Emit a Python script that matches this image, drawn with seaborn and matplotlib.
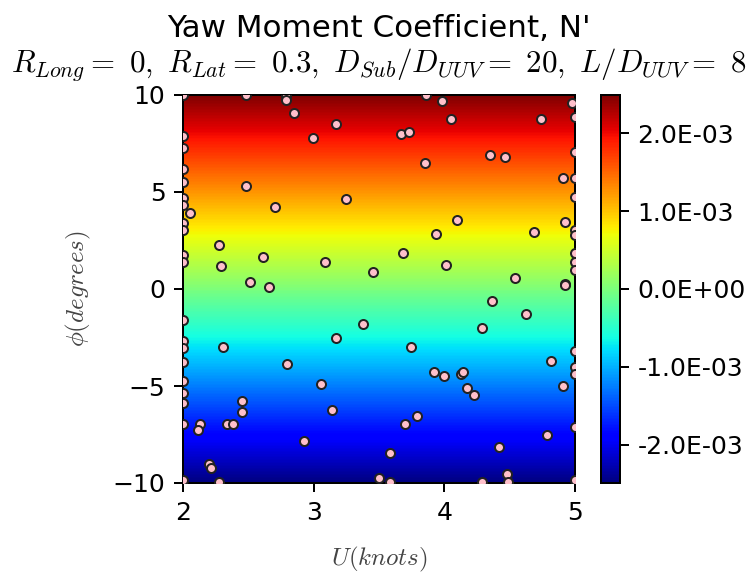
import numpy as np
import pandas as pd
import matplotlib
matplotlib.use("Agg")
import matplotlib.pyplot as plt
import matplotlib.ticker as mticker
import seaborn as sns

grid_u = [2.0, 5.0]
grid_phi = [-10.0, -5.0, 0.0, 5.0, 10.0]
grid_cn_u2 = [-2.49e-3, -1.25e-3, 0.0, 1.25e-3, 2.49e-3]
grid_cn_u5 = [-2.49e-3, -1.25e-3, 0.0, 1.25e-3, 2.49e-3]

# ---- sample points ----
pts_u = [2.482, 2.788, 2.788, 2.849, 3.171, 2.995, 2.482, 3.247, 2.704, 2.054,
         2.276, 2.612, 2.291, 3.087, 3.454, 2.513, 2.658,
         2.0, 2.0, 2.0, 2.0, 2.0, 2.0, 2.0, 2.0, 2.0, 2.0, 2.0,
         3.860, 3.982, 4.051, 3.668, 3.730, 4.740, 4.977, 5.0, 3.852, 4.349,
         4.464, 4.908, 5.0, 5.0, 5.0, 4.097, 3.936, 4.686, 4.923, 5.0, 5.0,
         3.684, 4.013, 4.541, 4.923, 5.0, 5.0, 5.0,
         3.378, 3.171, 2.306, 2.796, 3.056, 2.452, 2.452, 3.140, 2.130, 2.115,
         2.337, 2.383, 2.926, 2.199, 2.214, 2.276, 3.500,
         2.0, 2.0, 2.0, 2.0, 2.0, 2.0, 2.0, 2.0, 2.0,
         4.923, 4.365, 4.625, 4.288, 3.745, 4.816, 3.921, 3.997, 4.127, 4.143,
         4.173, 4.227, 4.908, 3.791, 3.699, 4.786, 3.584, 4.418, 4.480, 3.584,
         4.288, 4.487,
         5.0, 5.0, 5.0, 5.0, 5.0]
pts_phi = [10.0, 9.95, 9.74, 9.07, 8.51, 7.79, 5.31, 4.64, 4.23, 3.92,
           2.27, 1.65, 1.19, 1.39, 0.88, 0.36, 0.10,
           10.0, 7.89, 7.27, 6.19, 5.52, 4.69, 4.33, 3.40, 3.04, 1.75, 1.39,
           10.0, 9.69, 8.76, 7.99, 8.09, 8.76, 9.59, 8.87, 6.49, 6.91,
           6.80, 5.72, 5.72, 7.06, 4.74, 3.56, 2.84, 2.94, 3.45, 3.04, 2.78,
           1.86, 1.24, 0.57, 0.26, 1.86, 1.39, 0.98,
           -1.80, -2.53, -2.99, -3.87, -4.90, -5.77, -6.34, -6.24, -6.96, -7.27,
           -6.96, -6.96, -7.84, -9.02, -9.23, -9.95, -9.74,
           -1.60, -2.68, -3.04, -3.76, -4.74, -5.36, -5.88, -6.96, -9.85,
           0.21, -0.62, -1.29, -2.01, -2.99, -3.71, -4.28, -4.48, -4.38, -4.28,
           -5.10, -5.46, -5.00, -6.55, -6.96, -7.53, -8.45, -8.14, -9.54, -9.95,
           -9.95, -9.95,
           -3.20, -4.02, -4.38, -7.11, -9.85]

cbar_ticks = [-2e-3, -1e-3, 0.0, 1e-3, 2e-3]

plt.rcParams['mathtext.fontset'] = 'cm'
plt.rcParams['font.family'] = ['DejaVu Sans']

DPI = 180
fig = plt.figure(figsize=(754 / DPI, 575 / DPI), dpi=DPI)
ax = fig.add_axes([183 / 754, 1 - 483 / 575, (575 - 183) / 754, (483 - 95) / 575])
cax = fig.add_axes([601 / 754, 1 - 483 / 575, 19 / 754, (483 - 95) / 575])

U, P = np.meshgrid(grid_u, grid_phi)
C = np.column_stack([grid_cn_u2, grid_cn_u5])
vmin, vmax = -2.49e-3, 2.49e-3
levels = np.linspace(vmin, vmax, 256)
cf = ax.contourf(U, P, C, levels=levels, cmap='jet', vmin=vmin, vmax=vmax,
                 antialiased=False)

df = pd.DataFrame({'U': pts_u, 'phi': pts_phi})
sns.scatterplot(data=df, x='U', y='phi', ax=ax, color='pink', edgecolor='#222222',
                linewidth=0.8, s=13, marker='o', zorder=3)

ax.set_xlim(2, 5)
ax.set_ylim(-10, 10)
ax.set_xticks([2, 3, 4, 5])
ax.set_yticks([-10, -5, 0, 5, 10])
ax.tick_params(labelsize=10)
ax.set_xlabel(r'$U(knots)$', fontsize=10, color='#444444', labelpad=8)
ax.set_ylabel(r'$\phi(degrees)$', fontsize=10, color='#444444', labelpad=8)
ax.set_title("Yaw Moment Coefficient, N'\n" +
             r"$R_{Long}=\ 0,\ R_{Lat}=\ 0.3,\ D_{Sub}/D_{UUV}=\ 20,\ L/D_{UUV}=\ 8$",
             fontsize=12.4, linespacing=1.15, pad=9)

sm = matplotlib.cm.ScalarMappable(norm=matplotlib.colors.Normalize(vmin, vmax), cmap='jet')
cb = fig.colorbar(sm, cax=cax, ticks=cbar_ticks,
                  format=mticker.FormatStrFormatter('%.1E'))
cb.ax.tick_params(labelsize=10)

fig.savefig('out.png', dpi=DPI)
